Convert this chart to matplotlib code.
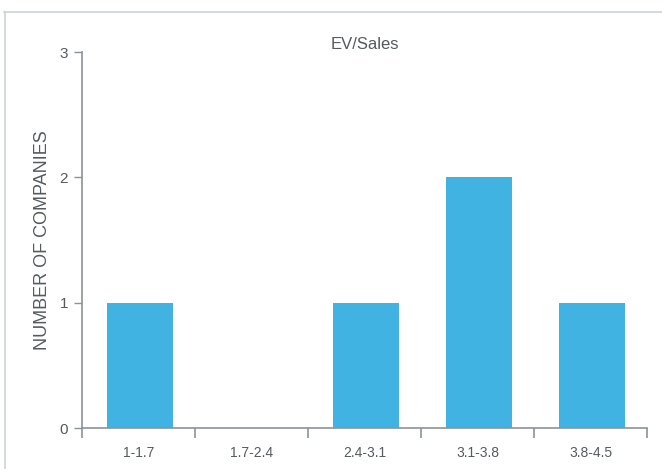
import matplotlib
matplotlib.use("Agg")
import matplotlib.pyplot as plt
from matplotlib.lines import Line2D

categories = ["1-1.7", "1.7-2.4", "2.4-3.1", "3.1-3.8", "3.8-4.5"]
counts = [1, 0, 1, 2, 1]
y_ticks = [0, 1, 2, 3]

plt.rcParams['font.family'] = ['Liberation Sans', 'DejaVu Sans']
text_color = "#555a5e"
axis_color = "#8a9399"

fig = plt.figure(figsize=(6.62, 4.69), dpi=100)
ax = fig.add_axes([82/662, 1-428/469, (647-82)/662, (428-52)/469])

x = list(range(len(categories)))
ax.bar([i + 0.015 for i in x], counts, width=0.58, color="#41b3e3", zorder=2)
ax.set_xlim(-0.5, len(categories)-0.5)
ax.set_ylim(0, 3)

for s in ["top", "right"]:
    ax.spines[s].set_visible(False)
for s in ["left", "bottom"]:
    ax.spines[s].set_color(axis_color)
    ax.spines[s].set_linewidth(1.2)

ax.set_yticks(y_ticks)
ax.set_yticklabels([str(v) for v in y_ticks], fontsize=11, color=text_color)
ax.tick_params(axis='y', length=6, width=1.0, color=axis_color, pad=4)

# category labels at centers, ticks at boundaries
ax.set_xticks([i - 0.5 for i in range(len(categories)+1)])
ax.set_xticklabels([])
ax.tick_params(axis='x', which='major', length=7, width=1.2, color=axis_color)
ax.set_xticks(x, minor=True)
ax.set_xticklabels(categories, minor=True, fontsize=10, color=text_color)
ax.tick_params(axis='x', which='minor', length=0, pad=13)

ax.set_ylabel("NUMBER OF COMPANIES", fontsize=13, color=text_color, labelpad=6)
ax.set_title("EV/Sales", fontsize=12, color=text_color, pad=-2)

# outer frame lines
border = "#c9d4d8"
fig.add_artist(Line2D([4/662, 1], [1-12/469, 1-12/469], color=border, lw=1.2, transform=fig.transFigure))
fig.add_artist(Line2D([5/662, 5/662], [0, 1-12/469], color=border, lw=1.2, transform=fig.transFigure))

fig.savefig("out.png", dpi=100)
